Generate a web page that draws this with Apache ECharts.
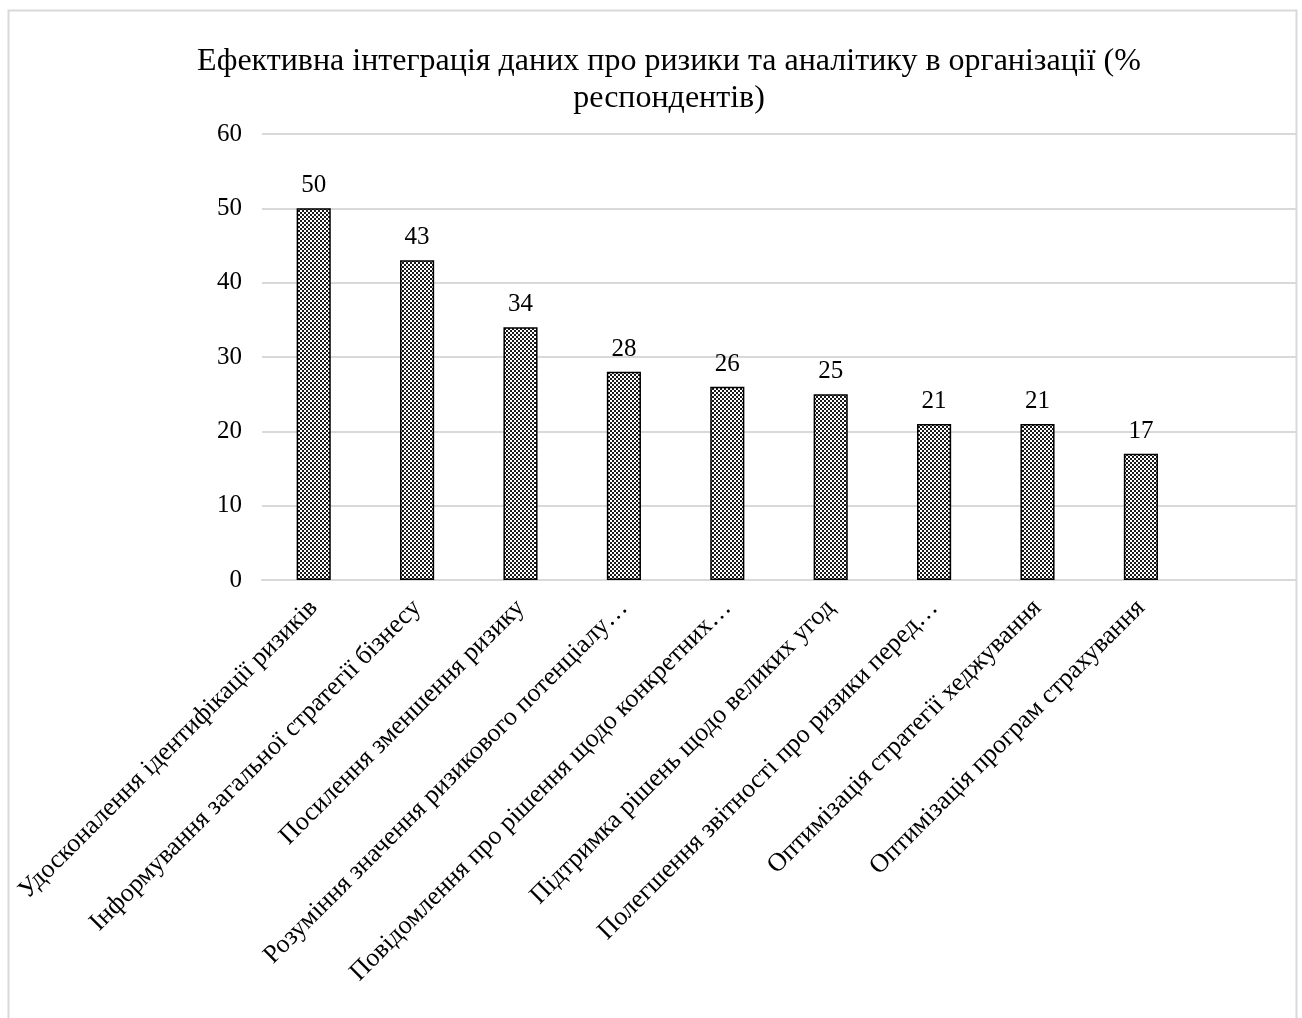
<!DOCTYPE html>
<html>
	<head>
		<meta charset="utf-8">
		<title>ECharts</title>
		<style>
		html,body { height:100%; width:100%; margin:0; padding:0; background:#fff; }
		</style>
		<script src="https://cdn.jsdelivr.net/npm/echarts@6/dist/echarts.min.js"></script>
	</head>
	<body>
		<div id="bar" style="height:1018px;width:1302px;"></div>
		<script type="text/javascript">
			var categories = [
				'Удосконалення ідентифікації ризиків',
				'Інформування загальної стратегії бізнесу',
				'Посилення зменшення ризику',
				'Розуміння значення ризикового потенціалу…',
				'Повідомлення про рішення щодо конкретних…',
				'Підтримка рішень щодо великих угод',
				'Полегшення звітності про ризики перед…',
				'Оптимізація стратегії хеджування',
				'Оптимізація програм страхування',
				''
			];
			var values = [50, 43, 34, 28, 26, 25, 21, 21, 17, null];
			var yTicks = [0, 10, 20, 30, 40, 50, 60];

			// шахова заливка стовпчиків
			function makePattern() {
				var c = document.createElement('canvas');
				c.width = 4;
				c.height = 4;
				var ctx = c.getContext('2d');
				ctx.fillStyle = '#ffffff';
				ctx.fillRect(0, 0, 4, 4);
				ctx.fillStyle = '#1a1a1a';
				ctx.fillRect(0, 0, 2, 2);
				ctx.fillRect(2, 2, 2, 2);
				return c;
			}

			var myChart = echarts.init(document.getElementById('bar'));
			var font = '"Liberation Serif", "Times New Roman", serif';

			var option = {
				animation: false,
				backgroundColor: '#ffffff',
				textStyle: { fontFamily: font },
				title: {
					text: 'Ефективна інтеграція даних про ризики та аналітику в організації (%\nреспондентів)',
					left: 664,
					textAlign: 'center',
					top: 38,
					textStyle: {
						fontFamily: font,
						fontWeight: 'normal',
						fontSize: 32,
						lineHeight: 37,
						color: '#000'
					}
				},
				graphic: [{
					type: 'rect',
					shape: { x: 8.5, y: 10.5, width: 1288, height: 1100 },
					style: { fill: null, stroke: '#d9d9d9', lineWidth: 2 },
					silent: true
				}],
				grid: {
					left: 262,
					right: 6,
					top: 134,
					bottom: 438
				},
				xAxis: {
					type: 'category',
					data: categories,
					axisTick: { show: false },
					axisLine: { lineStyle: { color: '#d9d9d9', width: 2 } },
					axisLabel: {
						interval: 0,
						rotate: 45,
						margin: 24,
						fontFamily: font,
						fontSize: 26,
						color: '#000'
					}
				},
				yAxis: {
					type: 'value',
					min: yTicks[0],
					max: yTicks[yTicks.length - 1],
					interval: 10,
					axisLine: { show: false },
					axisTick: { show: false },
					splitLine: { lineStyle: { color: '#d9d9d9', width: 2 } },
					axisLabel: {
						margin: 20,
						fontFamily: font,
						fontSize: 25,
						color: '#000'
					}
				},
				series: [{
					type: 'bar',
					data: values,
					barWidth: '33%',
					itemStyle: {
						color: { image: makePattern(), repeat: 'repeat' },
						borderColor: '#000',
						borderWidth: 1.5
					},
					label: {
						show: true,
						position: 'top',
						distance: 10,
						fontFamily: font,
						fontSize: 25,
						color: '#000'
					}
				}]
			};
			myChart.setOption(option);
		</script>
	</body>
</html>
